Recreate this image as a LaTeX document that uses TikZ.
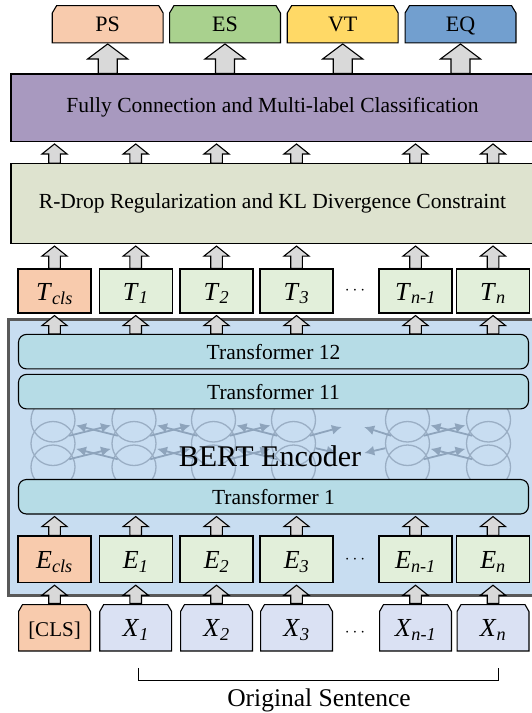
\documentclass[tikz,border=0pt]{standalone}
\usepackage{fontspec}
\setmainfont{Liberation Serif}
\usetikzlibrary{arrows.meta,calc}

\definecolor{psfill}{HTML}{F8CBAD}
\definecolor{esfill}{HTML}{A9D18E}
\definecolor{vtfill}{HTML}{FFD966}
\definecolor{eqfill}{HTML}{729FCF}
\definecolor{fcfill}{HTML}{A899BF}
\definecolor{rdfill}{HTML}{DEE3CF}
\definecolor{tokfill}{HTML}{E2EFDA}
\definecolor{encfill}{HTML}{C8DDF1}
\definecolor{encline}{HTML}{595959}
\definecolor{trfill}{HTML}{B6DCE6}
\definecolor{infill}{HTML}{DAE1F3}
\definecolor{arrfill}{HTML}{D9D9D9}
\definecolor{ringcol}{HTML}{9AAEC4}
\definecolor{attncol}{HTML}{8EA4BC}

\newcommand{\tok}[2]{\textit{#1}\textsubscript{\textit{#2}}}
% block arrow: from, to, half shaft, half head, head length, gap at tip
\newcommand{\blockup}[6]{%
  \draw[blockarr] let \p1=(#1), \p2=(#2) in
    (\x1-#3,\y1) -- (\x1-#3,\y2-#6-#5) -- (\x1-#4,\y2-#6-#5) -- (\x1,\y2-#6)
    -- (\x1+#4,\y2-#6-#5) -- (\x1+#3,\y2-#6-#5) -- (\x1+#3,\y1) -- cycle;}
\newcommand{\bigup}[2]{\blockup{#1}{#2}{9.5pt}{20pt}{15pt}{0pt}}
\newcommand{\smallup}[2]{\blockup{#1}{#2}{5.8pt}{12.5pt}{10pt}{2pt}}

\begin{document}
\begin{tikzpicture}[x=1pt, y=-1pt, line width=1.1pt,
    cutbox/.style n args={3}{fill=white, path picture={
      \filldraw[fill=#3, line width=1.1pt]
        ([shift={(0.55pt,0.55pt)}]path picture bounding box.south west)
        -- ([shift={(0.55pt,-#2)}]path picture bounding box.north west)
        -- ([shift={(#1,-0.55pt)}]path picture bounding box.north west)
        -- ([shift={(-#1,-0.55pt)}]path picture bounding box.north east)
        -- ([shift={(-0.55pt,-#2)}]path picture bounding box.north east)
        -- ([shift={(-0.55pt,0.55pt)}]path picture bounding box.south east) -- cycle;}},
    lblbox/.style={cutbox={5pt}{8pt}{#1}, minimum width=112pt, minimum height=38.4pt,
      inner sep=0pt, text height=15pt, text depth=0pt, font=\fontsize{22}{26}\selectfont},
    stackbox/.style={draw, minimum width=523pt, inner sep=0pt, font=\fontsize{21.5}{25}\selectfont},
    tokbox/.style={draw, fill=tokfill, minimum width=73pt, inner sep=0pt,
      text height=18pt, text depth=0pt, font=\fontsize{26}{30}\selectfont},
    inbox/.style={cutbox={4.5pt}{7.5pt}{#1}, minimum width=73pt, minimum height=47.5pt,
      inner sep=0pt, text height=18pt, text depth=0pt, font=\fontsize{26}{30}\selectfont},
    trbox/.style={draw, fill=trfill, rounded corners=8pt, minimum width=510pt,
      minimum height=34.5pt, inner sep=0pt, font=\fontsize{21.5}{25}\selectfont},
    bubble/.style={circle, draw=ringcol, line width=1.3pt, minimum size=44pt, inner sep=0pt},
    attn/.style={attncol, line width=1.8pt, shorten >=1pt, -{Latex[length=10pt,width=10pt]}},
    blockarr/.style={draw, fill=arrfill, line width=1.1pt, line join=miter},
    dots/.style={font=\fontsize{18}{20}\selectfont}]
  \useasboundingbox (0,0) rectangle (532,713);

  % output labels
  \node[lblbox=psfill] (ps) at (107.7,24.2) {PS};
  \node[lblbox=esfill] (es) at (225,24.2) {ES};
  \node[lblbox=vtfill] (vt) at (342.7,24.2) {VT};
  \node[lblbox=eqfill] (eq) at (460.5,24.2) {EQ};

  % classification and r-drop layers
  \node[stackbox, fill=fcfill, minimum height=67.4pt] (fc) at (272.5,107.7)
    {Fully Connection and Multi-label Classification};
  \node[stackbox, fill=rdfill, minimum height=79.7pt] (rd) at (272.5,203.65)
    {R-Drop Regularization and KL Divergence Constraint};

  \foreach \lab in {ps,es,vt,eq}
    \bigup{fc.north -| \lab}{\lab.south};

  % bert encoder
  \node[draw=encline, line width=3pt, fill=encfill, minimum width=527pt,
    minimum height=276.5pt, inner sep=0pt] (enc) at (272,457.25) {};

  \foreach \c/\x in {1/53, 2/134, 3/213.5, 4/293.5, 5/407.5, 6/488.5}
    \foreach \r/\y in {1/420, 2/443.5, 3/467}
      \node[bubble] (k\c-\r) at (\x,\y) {};

  \foreach \a/\b in {1/2, 2/3, 3/4, 5/6}
    \foreach \r in {1,2} {
      \draw[attn] (k\a-\r.-44) -- (k\b-\r.-167);
      \draw[attn] (k\b-\r.-136) -- (k\a-\r.-13);
    }
  \draw[attn] (k4-1.-44) -- ($(k4-1.-44)+(33,-9)$);
  \draw[attn] (k5-1.-136) -- ($(k5-1.-136)+(-28,-9)$);
  \draw[attn] (k4-2.-12) -- ($(k4-2.-12)+(22,5)$);
  \draw[attn] (k5-2.192) -- ($(k5-2.192)+(-22,5)$);

  \node[trbox] (tr12) at (273.5,351.65) {Transformer 12};
  \node[trbox] (tr11) at (273.5,391.65) {Transformer 11};
  \node[trbox] (tr1) at (273.5,496.75) {Transformer 1};
  \node[font=\fontsize{30}{34}\selectfont] (bert) at (270,456) {BERT Encoder};

  % token columns
  \node[tokbox, fill=psfill, minimum height=44pt] (tcls) at (54.5,291) {\tok{T}{cls}};
  \node[tokbox, fill=psfill, minimum height=46.7pt] (ecls) at (54.5,559.3) {\tok{E}{cls}};
  \node[inbox=psfill, font=\fontsize{21}{25}\selectfont] (xcls) at (54.5,627.75) {[CLS]};
  \foreach \c/\x/\s in {1/135.7/1, 2/216.5/2, 3/296.5/3, m/415.5/n-1, n/493/n} {
    \node[tokbox, minimum height=44pt] (t\c) at (\x,291) {\tok{T}{\s}};
    \node[tokbox, minimum height=46.7pt] (e\c) at (\x,559.3) {\tok{E}{\s}};
    \node[inbox=infill] (x\c) at (\x,627.75) {\tok{X}{\s}};
  }
  \node[dots] (tdots) at (355,291) {$\cdots$};
  \node[dots] (edots) at (355,559.3) {$\cdots$};
  \node[dots] (xdots) at (355,633) {$\cdots$};

  \foreach \c in {cls,1,2,3,m,n} {
    \smallup{rd.north -| t\c}{fc.south -| t\c};
    \smallup{t\c.north}{rd.south -| t\c};
    \smallup{tr12.north -| t\c}{t\c.south};
    \smallup{e\c.north}{tr1.south -| e\c};
    \smallup{x\c.north}{e\c.south};
  }

  % original sentence bracket
  \draw (138.4,667.8) -- (138.4,680.4) -- (498.8,680.4) -- (498.8,667.8);
  \node[font=\fontsize{25.5}{30}\selectfont] (orig) at (319,700) {Original Sentence};
\end{tikzpicture}
\end{document}
